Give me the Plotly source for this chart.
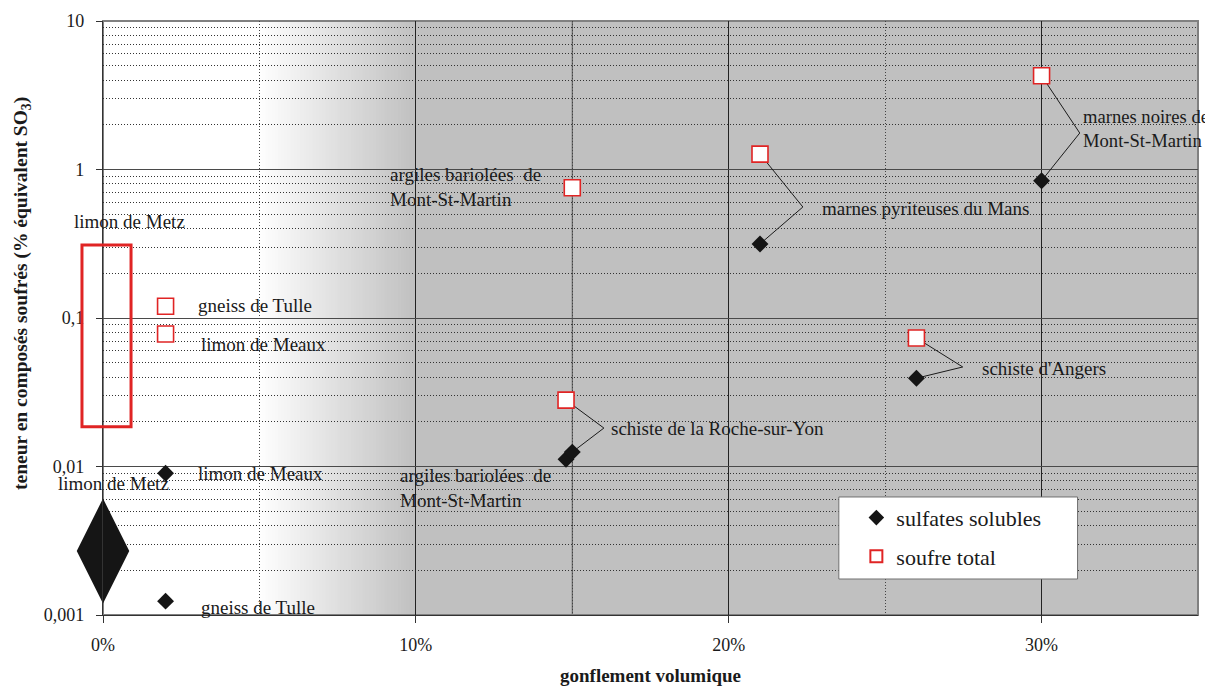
import math
import plotly.graph_objects as go

# --- data ---------------------------------------------------------------
# gonflement volumique (fraction) vs teneur (% équivalent SO3)
sulf_names = ["gneiss de Tulle", "limon de Meaux", "argiles bariolées de Mont-St-Martin",
              "schiste de la Roche-sur-Yon", "marnes pyriteuses du Mans",
              "schiste d'Angers", "marnes noires de Mont-St-Martin"]
sulf_gonf = [0.02, 0.02, 0.148, 0.150, 0.21, 0.26, 0.30]
sulf_val = [0.00124, 0.009, 0.0112, 0.0125, 0.315, 0.0393, 0.84]

tot_names = ["gneiss de Tulle", "limon de Meaux", "argiles bariolées de Mont-St-Martin",
             "schiste de la Roche-sur-Yon", "marnes pyriteuses du Mans",
             "schiste d'Angers", "marnes noires de Mont-St-Martin"]
tot_gonf = [0.02, 0.02, 0.150, 0.148, 0.21, 0.26, 0.30]
tot_val = [0.12, 0.078, 0.754, 0.028, 1.27, 0.0733, 4.28]

# limon de Metz : valeurs données sous forme de plage
metz_gonf = [0.0]
metz_sulf = [0.0027]
metz_tot_range = [0.0185, 0.31]

x_tickvals = [0, 0.1, 0.2, 0.3]
x_ticktext = ["0%", "10%", "20%", "30%"]
y_tickvals = [0.001, 0.01, 0.1, 1, 10]
y_ticktext = ["0,001", "0,01", "0,1", "1", "10"]

FONT = "Liberation Serif"
TXT = "#1a1a1a"

fig = go.Figure()

fig.add_trace(go.Scatter(
    x=sulf_gonf, y=sulf_val, mode="markers", name="sulfates solubles",
    text=sulf_names, legendgroup="a",
    marker=dict(symbol="diamond", size=13, color="#151515"),
))
fig.add_trace(go.Scatter(
    x=tot_gonf, y=tot_val, mode="markers", name="soufre total",
    text=tot_names, legendgroup="b",
    marker=dict(symbol="square", size=16, color="white",
                line=dict(color="#e02424", width=1.6)),
))
# big elongated diamond for limon de Metz (range of soluble sulfates)
fig.add_trace(go.Scatter(
    x=metz_gonf, y=metz_sulf, mode="markers", showlegend=False,
    cliponaxis=False,
    marker=dict(symbol="diamond-tall", size=75, color="#151515"),
))

shapes = []
# background: white -> grey gradient between 5% and 10%, grey afterwards
n = 50
for i in range(n):
    x0 = 0.05 + 0.05 * i / n
    g = int(255 - (255 - 192) * (i + 0.5) / n)
    shapes.append(dict(type="rect", xref="x", yref="paper", x0=x0, x1=x0 + 0.05 / n + 0.0002,
                       y0=0, y1=1, layer="below", line_width=0,
                       fillcolor=f"rgb({g},{g},{g})"))
shapes.append(dict(type="rect", xref="x", yref="paper", x0=0.1, x1=0.35, y0=0, y1=1,
                   layer="below", line_width=0, fillcolor="rgb(192,192,192)"))
# darker 15% line
shapes.append(dict(type="line", xref="x", yref="paper", x0=0.15, x1=0.15, y0=0, y1=1,
                   layer="between", line=dict(color="#555555", width=1)))
# plot frame (grey top/right)
shapes.append(dict(type="rect", xref="paper", yref="paper", x0=0, x1=1, y0=0, y1=1,
                   layer="between", line=dict(color="#808080", width=2)))

# red rectangle: soufre total range for limon de Metz
shapes.append(dict(type="rect", xref="paper", yref="y", x0=-0.0192, x1=0.0256,
                   y0=metz_tot_range[0], y1=metz_tot_range[1],
                   line=dict(color="#e02424", width=3), fillcolor="rgba(0,0,0,0)"))

# leader lines (label vertex -> both points of the same sample)
vertices = {
    "schiste de la Roche-sur-Yon": (0.1601, 0.01815),
    "marnes pyriteuses du Mans": (0.2237, 0.559),
    "schiste d'Angers": (0.2748, 0.0468),
    "marnes noires de Mont-St-Martin": (0.3122, 1.76),
}
for name, (vx, vy) in vertices.items():
    i = sulf_names.index(name)
    j = tot_names.index(name)
    for px, py in [(sulf_gonf[i], sulf_val[i]), (tot_gonf[j], tot_val[j])]:
        shapes.append(dict(type="line", xref="x", yref="y", x0=px, y0=py, x1=vx, y1=vy,
                           layer="between", line=dict(color="#1a1a1a", width=1)))

# legend box
shapes.append(dict(type="rect", xref="paper", yref="paper", x0=0.672, x1=0.890,
                   y0=0.0606, y1=0.1987, layer="above",
                   line=dict(color="#707070", width=1), fillcolor="white"))

labels = [
    ("marnes noires de<br>Mont-St-Martin", 0.3125, 1.90, 18.6),
    ("marnes pyriteuses du Mans", 0.2291, 0.55, 19),
    ("schiste d'Angers", 0.2803, 0.046, 19),
    ("schiste de la Roche-sur-Yon", 0.1617, 0.01815, 19),
    ("argiles bariolées  de<br>Mont-St-Martin", 0.0911, 0.768, 19),
    ("argiles bariolées  de<br>Mont-St-Martin", 0.0943, 0.00722, 19),
    ("gneiss de Tulle", 0.0297, 0.1205, 19),
    ("limon de Meaux", 0.0307, 0.0658, 19),
    ("limon de Meaux", 0.0297, 0.00904, 19),
    ("gneiss de Tulle", 0.0307, 0.001115, 19),
]
annotations = []
for t, x, y, fs in labels:
    annotations.append(dict(text=t, x=x, y=math.log10(y), xref="x", yref="y",
                            showarrow=False, xanchor="left", yanchor="middle", align="left",
                            font=dict(family=FONT, size=fs, color=TXT)))
# limon de Metz labels (left of the axis)
for t, x, y in [("limon de Metz", -0.0283, 0.45), ("limon de Metz", -0.0429, 0.00774)]:
    annotations.append(dict(text=t, x=x, y=math.log10(y), xref="paper", yref="y",
                            showarrow=False, xanchor="left", yanchor="middle",
                            font=dict(family=FONT, size=19, color=TXT)))
# y axis title
annotations.append(dict(text="<b>teneur en composés soufrés (% équivalent SO<sub>3</sub>)</b>",
                        x=-0.074, y=0.542, xref="paper", yref="paper", textangle=-90,
                        showarrow=False, xanchor="center", yanchor="middle",
                        font=dict(family=FONT, size=19.5, color=TXT)))

fig.update_layout(
    width=1205, height=678,
    margin=dict(l=95, r=15, t=13, b=71),
    paper_bgcolor="white", plot_bgcolor="white",
    font=dict(family=FONT, size=18, color=TXT),
    shapes=shapes, annotations=annotations,
    showlegend=True,
    legend=dict(x=0.688, y=0.199, xanchor="left", yanchor="top",
                bgcolor="rgba(0,0,0,0)", borderwidth=0,
                font=dict(family=FONT, size=22, color=TXT),
                tracegroupgap=7, itemsizing="constant"),
    xaxis=dict(
        range=[0, 0.35], tickvals=x_tickvals, ticktext=x_ticktext,
        showgrid=True, gridcolor="#222222", gridwidth=1,
        showline=True, linecolor="#333333", linewidth=1.2,
        ticks="outside", ticklen=7, tickcolor="#333333", ticklabelstandoff=6,
        zeroline=False, automargin=False,
        minor=dict(dtick=0.05, tick0=0, showgrid=True, gridcolor="#444444",
                   griddash="1px,2px", gridwidth=1),
        title=dict(text="<b>gonflement volumique</b>", standoff=22,
                   font=dict(family=FONT, size=19, color=TXT)),
    ),
    yaxis=dict(
        type="log", range=[-3, 1], tickvals=y_tickvals, ticktext=y_ticktext,
        showgrid=True, gridcolor="#4a4a4a", gridwidth=1.2,
        showline=True, linecolor="#333333", linewidth=1.2,
        ticks="outside", ticklen=6, tickcolor="#333333", ticklabelstandoff=8,
        zeroline=False, automargin=False,
        minor=dict(dtick="D1", showgrid=True, gridcolor="#333333",
                   griddash="1px,2px", gridwidth=1),
    ),
)

fig.write_html("out.html")
